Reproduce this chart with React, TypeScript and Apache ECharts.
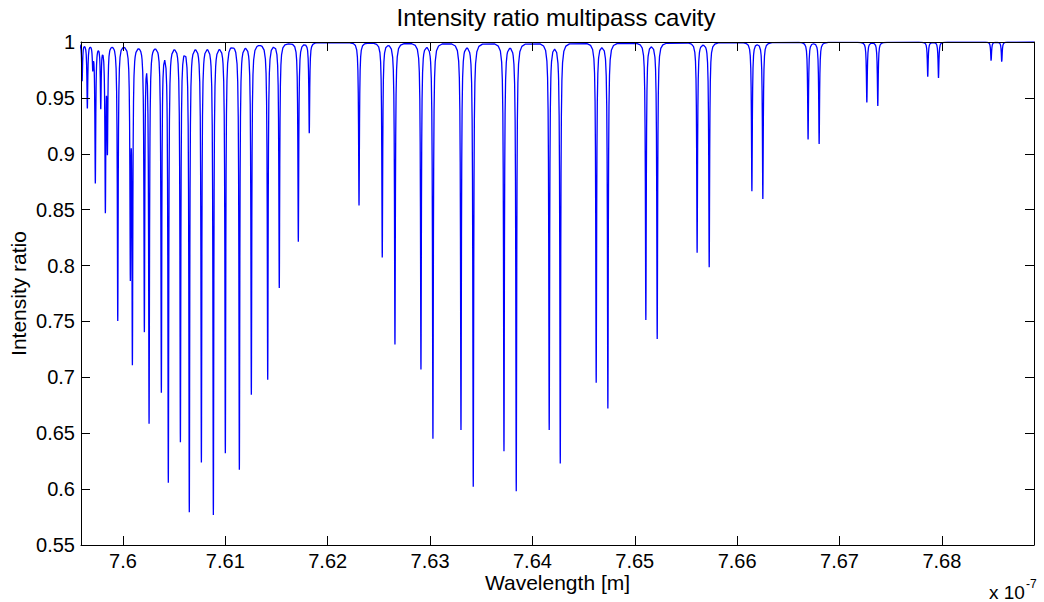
import React, { useEffect, useRef } from "react";
import * as echarts from "echarts";

// Axis ranges and ticks (wavelength in units of 1e-7 m)
const X_MIN = 7.5959;
const X_MAX = 7.689;
const X_TICKS = [7.6, 7.61, 7.62, 7.63, 7.64, 7.65, 7.66, 7.67, 7.68];
const Y_MIN = 0.55;
const Y_MAX = 1;
const Y_STEP = 0.05;

// Absorption line centres (x 1e-7 m)
const LINE_CENTERS = [
  7.59601, 7.59652, 7.59705, 7.5973, 7.59783, 7.59828, 7.59848, 7.59949,
  7.60072, 7.60092, 7.60209, 7.60255, 7.60375, 7.60443, 7.60561, 7.60648,
  7.60766, 7.60883, 7.61, 7.61137, 7.61254, 7.61414, 7.61527, 7.61713,
  7.6182, 7.62306, 7.62533, 7.62657, 7.62911, 7.63028, 7.63302, 7.63422,
  7.63722, 7.63842, 7.64164, 7.64272, 7.64623, 7.64737, 7.65108, 7.65219,
  7.65609, 7.65727, 7.66144, 7.66251, 7.66693, 7.66801, 7.67267, 7.67374,
  7.67862, 7.67967, 7.68481, 7.68585,
];
// Minimum intensity ratio reached at each line centre
const LINE_MINIMA = [
  0.966, 0.942, 0.98, 0.876, 0.944, 0.854, 0.909, 0.752,
  0.804, 0.724, 0.746, 0.663, 0.69, 0.609, 0.645, 0.582,
  0.626, 0.579, 0.634, 0.619, 0.686, 0.699, 0.781, 0.822,
  0.919, 0.854, 0.808, 0.73, 0.708, 0.646, 0.654, 0.603,
  0.635, 0.599, 0.654, 0.624, 0.696, 0.673, 0.752, 0.735,
  0.812, 0.799, 0.867, 0.86, 0.913, 0.909, 0.946, 0.943,
  0.969, 0.968, 0.983, 0.982,
];
// Line shape (half width) and sampling steps around each centre
const LINE_HWHM = 0.00005;
const PROFILE_STEPS = [0, 0.15, 0.35, 0.6, 1, 1.5, 2.2, 3.2, 4.5, 7, 11, 18];

function buildSpectrum(): number[][] {
  const xs: number[] = [X_MIN, X_MAX];
  LINE_CENTERS.forEach((c) => {
    PROFILE_STEPS.forEach((s) => {
      xs.push(c - s * LINE_HWHM);
      if (s > 0) xs.push(c + s * LINE_HWHM);
    });
  });
  xs.sort((a, b) => a - b);
  const g2 = LINE_HWHM * LINE_HWHM;
  const out: number[][] = [];
  let last = -Infinity;
  xs.forEach((x) => {
    if (x - last < 1e-9) return;
    last = x;
    let y = 1;
    LINE_CENTERS.forEach((c, i) => {
      const d = x - c;
      y -= (1 - LINE_MINIMA[i]) * (g2 / (d * d + g2));
    });
    out.push([x, y]);
  });
  return out;
}

const fmt = (v: number) => String(parseFloat(v.toFixed(2)));
const FONT = "Liberation Sans, Arial, sans-serif";

export default function App() {
  const ref = useRef<HTMLDivElement>(null);
  useEffect(() => {
    if (!ref.current) return;
    const chart = echarts.init(ref.current, undefined, { renderer: "svg" });
    const axisLine = { show: true, lineStyle: { color: "#000", width: 1 } };
    const tick = { show: true, inside: true, length: 9, lineStyle: { color: "#000", width: 1 } };
    chart.setOption({
      animation: false,
      backgroundColor: "#fff",
      grid: {
        left: 81,
        right: 10,
        top: 42,
        bottom: 57,
        containLabel: false,
        outerBoundsMode: "none",
      },
      xAxis: [
        {
          type: "value",
          position: "bottom",
          min: X_MIN,
          max: X_MAX,
          z: 5,
          axisLine,
          axisTick: { ...tick, customValues: X_TICKS },
          axisLabel: {
            customValues: X_TICKS,
            formatter: fmt,
            color: "#000",
            fontFamily: FONT,
            fontSize: 20,
            margin: 6,
          },
          splitLine: { show: false },
          name: "Wavelength [m]",
          nameLocation: "middle",
          nameGap: 27,
          nameMoveOverlap: false,
          nameTextStyle: { color: "#000", fontFamily: FONT, fontSize: 21 },
        },
        {
          type: "value",
          position: "top",
          min: X_MIN,
          max: X_MAX,
          z: 5,
          axisLine,
          axisTick: { ...tick, customValues: X_TICKS },
          axisLabel: { show: false },
          splitLine: { show: false },
        },
      ],
      yAxis: [
        {
          type: "value",
          position: "left",
          min: Y_MIN,
          max: Y_MAX,
          interval: Y_STEP,
          z: 5,
          axisLine,
          axisTick: tick,
          axisLabel: {
            formatter: fmt,
            color: "#000",
            fontFamily: FONT,
            fontSize: 20,
            margin: 6,
          },
          splitLine: { show: false },
          name: "Intensity ratio",
          nameLocation: "middle",
          nameGap: 52,
          nameMoveOverlap: false,
          nameTextStyle: { color: "#000", fontFamily: FONT, fontSize: 21 },
        },
        {
          type: "value",
          position: "right",
          min: Y_MIN,
          max: Y_MAX,
          interval: Y_STEP,
          z: 5,
          axisLine,
          axisTick: tick,
          axisLabel: { show: false },
          splitLine: { show: false },
        },
      ],
      graphic: [
        {
          type: "text",
          x: 556,
          y: 17,
          style: {
            text: "Intensity ratio multipass cavity",
            fill: "#000",
            font: `24px ${FONT}`,
            align: "center",
            verticalAlign: "middle",
          },
        },
        {
          type: "text",
          x: 989,
          y: 590,
          style: {
            text: "{b|x 10}{s|-7}",
            verticalAlign: "middle",
            rich: {
              b: { fill: "#000", fontFamily: FONT, fontSize: 19, verticalAlign: "bottom" },
              s: { fill: "#000", fontFamily: FONT, fontSize: 12, padding: [0, 0, 12, 1] },
            },
          },
        },
      ],
      series: [
        {
          type: "line",
          xAxisIndex: 0,
          yAxisIndex: 0,
          data: buildSpectrum(),
          showSymbol: false,
          silent: true,
          clip: true,
          lineStyle: { color: "#0000ff", width: 1.3 },
          z: 2,
        },
      ],
    });
    return () => chart.dispose();
  }, []);
  return (
    <div
      ref={ref}
      style={{ position: "absolute", left: 0, top: 0, width: 1044, height: 602, background: "#fff" }}
    />
  );
}
